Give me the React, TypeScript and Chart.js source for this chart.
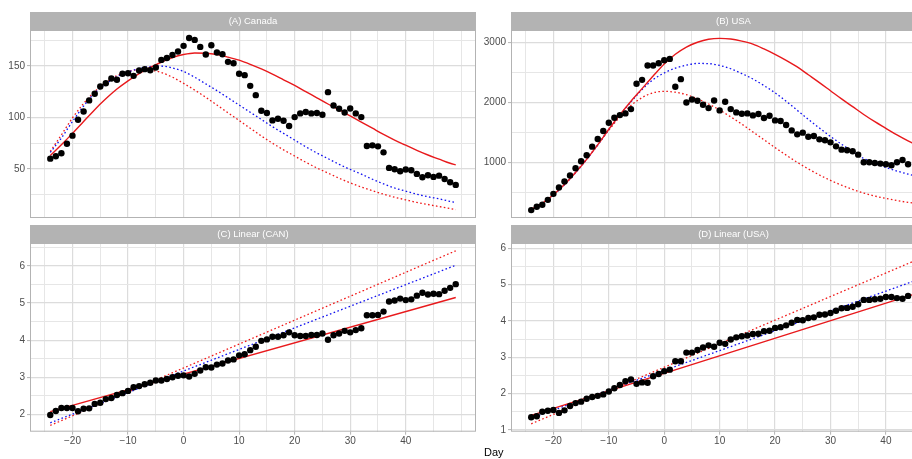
import React, { useEffect, useRef } from "react";
import { Chart, registerables } from "chart.js";

Chart.register(...registerables);

const FONT = "'Liberation Sans', Arial, Helvetica, sans-serif";

// Observation days, relative to day 0
const days = [
  -24, -23, -22, -21, -20, -19, -18, -17, -16, -15, -14, -13, -12, -11, -10, -9, -8, -7, -6, -5,
  -4, -3, -2, -1, 0, 1, 2, 3, 4, 5, 6, 7, 8, 9, 10, 11, 12, 13, 14, 15, 16, 17, 18, 19, 20, 21,
  22, 23, 24, 25, 26, 27, 28, 29, 30, 31, 32, 33, 34, 35, 36, 37, 38, 39, 40, 41, 42, 43, 44, 45,
  46, 47, 48, 49,
];

// (A) Canada: daily values
const canadaCases = [
  60, 62.3, 65.2, 74.5, 82.3, 97.7, 105.8, 116.5, 122.9, 130,
  133.2, 137.7, 136.5, 142.3, 142.9, 140.3, 145.5, 146.8, 145.8, 148.4,
  155.8, 157.7, 160.6, 163.9, 169.4, 177.1, 175.2, 168.4, 161, 170,
  162.9, 161.3, 153.9, 152.6, 142.3, 141, 130.6, 121.6, 106.5, 104.2,
  97.1, 98.7, 96.8, 91.6, 100.3, 103.9, 105.2, 103.9, 104.2, 102.6,
  124.5, 111.6, 108.4, 104.8, 108.7, 103.9, 100.3, 72.3, 72.9, 71.9,
  66.1, 51, 49.7, 47.7, 49.4, 48.7, 45.2, 42, 43.9, 42.3,
  43.5, 40.3, 37.1, 34.5,
];

// (B) USA: daily values
const usaCases = [
  211, 266, 299, 382, 481, 586, 686, 785, 907, 1023,
  1122, 1266, 1393, 1525, 1663, 1746, 1790, 1818, 1890, 2310,
  2376, 2613, 2613, 2652, 2702, 2724, 2260, 2387, 2000, 2050,
  2028, 1962, 1906, 2033, 1868, 2011, 1890, 1835, 1812, 1818,
  1785, 1807, 1741, 1779, 1702, 1691, 1625, 1536, 1470, 1498,
  1431, 1442, 1387, 1371, 1337, 1271, 1216, 1205, 1188, 1133,
  1006, 1006, 995, 984, 973, 956, 1006, 1045, 973,
];

// (C) Linear (CAN)
const canadaLinear = [
  1.98, 2.09, 2.17, 2.17, 2.17, 2.08, 2.15, 2.16, 2.28, 2.31,
  2.41, 2.44, 2.52, 2.57, 2.63, 2.73, 2.76, 2.81, 2.85, 2.91,
  2.91, 2.95, 3.0, 3.04, 3.05, 3.02, 3.09, 3.18, 3.27, 3.26,
  3.34, 3.37, 3.45, 3.48, 3.59, 3.62, 3.73, 3.82, 3.98, 4.02,
  4.09, 4.09, 4.13, 4.21, 4.13, 4.11, 4.11, 4.14, 4.14, 4.18,
  4.01, 4.13, 4.18, 4.25, 4.21, 4.27, 4.32, 4.67, 4.67, 4.68,
  4.77, 5.04, 5.07, 5.12, 5.08, 5.1, 5.2, 5.28, 5.23, 5.25,
  5.24, 5.33, 5.41, 5.51,
];

// (D) Linear (USA)
const usaLinear = [
  1.35, 1.38, 1.5, 1.53, 1.55, 1.47, 1.54, 1.66, 1.74, 1.78,
  1.86, 1.91, 1.94, 1.98, 2.06, 2.15, 2.24, 2.34, 2.39, 2.27,
  2.31, 2.3, 2.48, 2.54, 2.62, 2.66, 2.89, 2.89, 3.13, 3.13,
  3.2, 3.27, 3.33, 3.29, 3.4, 3.37, 3.49, 3.55, 3.58, 3.6,
  3.64, 3.65, 3.72, 3.73, 3.81, 3.83, 3.88, 3.95, 4.03, 4.02,
  4.08, 4.1, 4.17, 4.18, 4.22, 4.28, 4.35, 4.36, 4.39, 4.46,
  4.58, 4.58, 4.6, 4.61, 4.66, 4.66, 4.63, 4.61, 4.69,
];

// Fitted curves for Canada
const canadaFitDays = [
  -24, -22, -20, -18, -16, -14, -12, -10, -8, -6, -4, -2, 0, 2, 4, 6, 8, 10, 12,
  14, 16, 18, 20, 22, 24, 26, 28, 30, 32, 34, 36, 38, 40, 42, 44, 46, 48, 49,
];
const canadaFitSolid = [
  63, 73.5, 84.5, 96, 107.5, 118, 127.5, 135.5, 142.5, 148.5, 153.5, 158, 161, 162.5, 162.3, 161, 158.5, 155.5, 151.5,
  147, 142, 136.5, 131, 125, 119, 113, 107.5, 101.5, 95.5, 89.5, 83.5, 78, 73, 68, 63.5, 59.5, 55.5, 54,
];
const canadaFitBlue = [
  66, 80, 96, 111, 123.5, 132.5, 139.5, 144, 147.5, 149.3, 149.7, 148, 144.5, 139, 132.5, 126, 119, 112, 105,
  98, 91, 84.5, 78, 71.5, 65.5, 60, 54.5, 49.5, 45, 40, 35.5, 31.5, 28.5, 25.5, 23, 21, 18.5, 17.5,
];
const canadaFitRedDot = [
  67, 83, 99.5, 113.5, 125, 134, 140.5, 144.5, 146.5, 146, 143.5, 139, 133, 126.5, 119.5, 112, 104.5, 97, 89.5,
  82, 75, 68.5, 62.5, 56.5, 51, 46, 41, 36.5, 32.5, 29, 25.5, 22.5, 20, 17.5, 15.5, 13.5, 11.5, 10.5,
];

// Fitted curves for the USA
const usaFitDays = [
  -24, -22, -20, -18, -16, -14, -12, -10, -8, -6, -4, -2, 0, 2, 4, 6, 8, 10,
  12, 14, 16, 18, 20, 22, 24, 26, 28, 30, 32, 34, 36, 38, 40, 42, 44, 46,
];
const usaFitSolid = [
  225, 325, 465, 635, 835, 1055, 1295, 1555, 1795, 2020, 2230, 2440, 2640, 2800, 2920, 3000, 3050, 3065,
  3055, 3020, 2970, 2890, 2800, 2700, 2590, 2460, 2330, 2195, 2060, 1930, 1800, 1680, 1570, 1460, 1360, 1270,
];
const usaFitBlue = [
  222, 322, 462, 632, 832, 1052, 1292, 1550, 1790, 2010, 2215, 2380, 2490, 2570, 2620, 2648, 2645, 2615,
  2560, 2480, 2390, 2280, 2160, 2020, 1870, 1720, 1575, 1435, 1305, 1185, 1070, 990, 920, 860, 810, 765,
];
const usaFitRedDot = [
  225, 330, 470, 640, 840, 1060, 1300, 1540, 1760, 1950, 2080, 2160, 2185, 2170, 2130, 2060, 1975, 1875,
  1760, 1640, 1510, 1380, 1250, 1125, 1005, 895, 795, 705, 625, 555, 495, 445, 405, 370, 340, 315,
];

// Straight-line fits on the linearised scale
const canadaLineDays = [-24, 49];
const canadaLinSolid = [2.07, 5.15];
const canadaLinBlue = [1.77, 6.02];
const canadaLinRedDot = [1.7, 6.41];

const usaLineDays = [-24, 46];
const usaLinSolid = [1.4, 4.78];
const usaLinBlue = [1.33, 5.15];
const usaLinRedDot = [1.17, 5.71];

// Axis breaks (labelled) and grid positions
const dayBreaks = [-20, -10, 0, 10, 20, 30, 40];
const dayGrid = [-25, -20, -15, -10, -5, 0, 5, 10, 15, 20, 25, 30, 35, 40, 45, 50];
const canadaBreaks = [50, 100, 150];
const canadaGrid = [25, 50, 75, 100, 125, 150, 175];
const usaBreaks = [1000, 2000, 3000];
const usaGrid = [500, 1000, 1500, 2000, 2500, 3000];
const canLinBreaks = [2, 3, 4, 5, 6];
const canLinGrid = [2, 2.5, 3, 3.5, 4, 4.5, 5, 5.5, 6, 6.5];
const usaLinBreaks = [1, 2, 3, 4, 5, 6];
const usaLinGrid = [1, 1.5, 2, 2.5, 3, 3.5, 4, 4.5, 5, 5.5, 6];

const MAJOR_GRID = "#dcdcdc";
const MINOR_GRID = "#e6e6e6";
const FRAME = "#b3b3b3";
const TEXT = "#4d4d4d";

const fmt = (v: number) => (v < 0 ? "\u2212" + Math.abs(v) : String(v));

const pairs = (xs: number[], ys: number[]) => ys.map((y, i) => ({ x: xs[i], y }));

type Panel = {
  title: string;
  left: number;
  top: number;
  width: number;
  height: number;
  pad: { top: number; left: number; right: number; bottom: number };
  yWidth: number;
  xHeight: number;
  showX: boolean;
  yMin: number;
  yMax: number;
  yBreaks: number[];
  yGrid: number[];
  obs: number[];
  fitDays: number[];
  solid: number[];
  blue: number[];
  redDot: number[];
};

const panels: Panel[] = [
  {
    title: "(A) Canada",
    left: 0, top: 0, width: 480, height: 222,
    pad: { top: 30, left: 0, right: 2, bottom: 3.5 },
    yWidth: 30, xHeight: 0, showX: false,
    yMin: 2.4, yMax: 184.8, yBreaks: canadaBreaks, yGrid: canadaGrid,
    obs: canadaCases, fitDays: canadaFitDays,
    solid: canadaFitSolid, blue: canadaFitBlue, redDot: canadaFitRedDot,
  },
  {
    title: "(B) USA",
    left: 480, top: 0, width: 480, height: 222,
    pad: { top: 30, left: 0, right: 1, bottom: 3.5 },
    yWidth: 31, xHeight: 0, showX: false,
    yMin: 80, yMax: 3204, yBreaks: usaBreaks, yGrid: usaGrid,
    obs: usaCases, fitDays: usaFitDays,
    solid: usaFitSolid, blue: usaFitBlue, redDot: usaFitRedDot,
  },
  {
    title: "(C) Linear (CAN)",
    left: 0, top: 222, width: 480, height: 237,
    pad: { top: 21, left: 0, right: 2, bottom: 0 },
    yWidth: 30, xHeight: 27.3, showX: true,
    yMin: 1.53, yMax: 6.62, yBreaks: canLinBreaks, yGrid: canLinGrid,
    obs: canadaLinear, fitDays: canadaLineDays,
    solid: canadaLinSolid, blue: canadaLinBlue, redDot: canadaLinRedDot,
  },
  {
    title: "(D) Linear (USA)",
    left: 480, top: 222, width: 480, height: 237,
    pad: { top: 21, left: 0, right: 1, bottom: 0 },
    yWidth: 31, xHeight: 27.3, showX: true,
    yMin: 0.953, yMax: 6.146, yBreaks: usaLinBreaks, yGrid: usaLinGrid,
    obs: usaLinear, fitDays: usaLineDays,
    solid: usaLinSolid, blue: usaLinBlue, redDot: usaLinRedDot,
  },
];

const STRIP_H = 18;

// Grey facet strip above each panel plus the panel frame
const facetFrame = {
  id: "facetFrame",
  afterDraw(chart: any, _args: any, opts: any) {
    const { ctx, chartArea: a } = chart;
    ctx.save();
    ctx.fillStyle = FRAME;
    ctx.fillRect(a.left, a.top - STRIP_H, a.right - a.left, STRIP_H);
    ctx.fillStyle = "#ffffff";
    ctx.font = `9.5px ${FONT}`;
    ctx.textAlign = "center";
    ctx.textBaseline = "middle";
    ctx.fillText(opts.label, (a.left + a.right) / 2, a.top - STRIP_H / 2 + 0.5);
    ctx.strokeStyle = FRAME;
    ctx.lineWidth = 1;
    ctx.strokeRect(a.left + 0.5, a.top + 0.5, a.right - a.left - 1, a.bottom - a.top - 1);
    ctx.restore();
  },
};

function makeChart(canvas: HTMLCanvasElement, p: Panel) {
  const isDayBreak = (v: number) => dayBreaks.includes(v);
  const isYBreak = (v: number) => p.yBreaks.includes(v);
  const dotted = [1.6, 2.4];

  return new Chart(canvas, {
    type: "line",
    data: {
      datasets: [
        {
          data: pairs(days, p.obs),
          showLine: false,
          pointRadius: 3.2,
          pointBackgroundColor: "#000000",
          pointBorderWidth: 0,
          borderColor: "#000000",
        },
        {
          data: pairs(p.fitDays, p.solid),
          borderColor: "#e8191c",
          borderWidth: 1.4,
          pointRadius: 0,
          cubicInterpolationMode: "monotone",
        },
        {
          data: pairs(p.fitDays, p.blue),
          borderColor: "#1010f0",
          borderWidth: 1.3,
          borderDash: dotted,
          pointRadius: 0,
          cubicInterpolationMode: "monotone",
        },
        {
          data: pairs(p.fitDays, p.redDot),
          borderColor: "#f01818",
          borderWidth: 1.3,
          borderDash: dotted,
          pointRadius: 0,
          cubicInterpolationMode: "monotone",
        },
      ],
    } as any,
    options: {
      responsive: false,
      maintainAspectRatio: false,
      animation: false,
      devicePixelRatio: 1,
      events: [],
      layout: { padding: p.pad },
      plugins: {
        legend: { display: false },
        title: { display: false },
        tooltip: { enabled: false },
        facetFrame: { label: p.title },
      } as any,
      scales: {
        x: {
          type: "linear",
          min: -27.65,
          max: 52.65,
          afterBuildTicks: (s: any) => {
            s.ticks = dayGrid.map((value) => ({ value }));
          },
          afterFit: (s: any) => {
            s.height = p.xHeight;
            s.paddingLeft = 0;
            s.paddingRight = 0;
            s.paddingTop = 0;
            s.paddingBottom = 0;
          },
          border: { display: false },
          grid: {
            color: (c: any) => (isDayBreak(c.tick?.value) ? MAJOR_GRID : MINOR_GRID),
            lineWidth: (c: any) => (isDayBreak(c.tick?.value) ? 1.2 : 1),
            drawTicks: p.showX,
            tickLength: 3,
            tickColor: (c: any) => (isDayBreak(c.tick?.value) ? FRAME : "rgba(0,0,0,0)"),
            tickWidth: 1,
          },
          ticks: {
            display: p.showX,
            autoSkip: false,
            maxRotation: 0,
            padding: 1,
            color: TEXT,
            font: { family: FONT, size: 10 },
            callback: (v: any) => (isDayBreak(Number(v)) ? fmt(Number(v)) : ""),
          },
        },
        y: {
          type: "linear",
          min: p.yMin,
          max: p.yMax,
          afterBuildTicks: (s: any) => {
            s.ticks = p.yGrid.map((value) => ({ value }));
          },
          afterFit: (s: any) => {
            s.width = p.yWidth;
            s.paddingLeft = 0;
            s.paddingRight = 0;
            s.paddingTop = 0;
            s.paddingBottom = 0;
          },
          border: { display: false },
          grid: {
            color: (c: any) => (isYBreak(c.tick?.value) ? MAJOR_GRID : MINOR_GRID),
            lineWidth: (c: any) => (isYBreak(c.tick?.value) ? 1.2 : 1),
            drawTicks: true,
            tickLength: 3,
            tickColor: (c: any) => (isYBreak(c.tick?.value) ? FRAME : "rgba(0,0,0,0)"),
            tickWidth: 1,
          },
          ticks: {
            autoSkip: false,
            padding: 2,
            color: TEXT,
            font: { family: FONT, size: 10 },
            callback: (v: any) => (isYBreak(Number(v)) ? fmt(Number(v)) : ""),
          },
        },
      },
    } as any,
    plugins: [facetFrame],
  });
}

export default function App() {
  const refs = useRef<(HTMLCanvasElement | null)[]>([]);

  useEffect(() => {
    const charts = panels.map((p, i) => makeChart(refs.current[i] as HTMLCanvasElement, p));
    return () => charts.forEach((c) => c.destroy());
  }, []);

  return (
    <div
      style={{
        position: "absolute",
        left: 0,
        top: 0,
        width: 912,
        height: 459,
        overflow: "hidden",
        background: "#ffffff",
      }}
    >
      {panels.map((p, i) => (
        <canvas
          key={p.title}
          ref={(el) => {
            refs.current[i] = el;
          }}
          width={p.width}
          height={p.height}
          style={{ position: "absolute", left: p.left, top: p.top, width: p.width, height: p.height }}
        />
      ))}
      <div
        style={{
          position: "absolute",
          left: 484,
          top: 446,
          fontFamily: FONT,
          fontSize: 11,
          lineHeight: "13px",
          color: "#000000",
        }}
      >
        Day
      </div>
    </div>
  );
}
